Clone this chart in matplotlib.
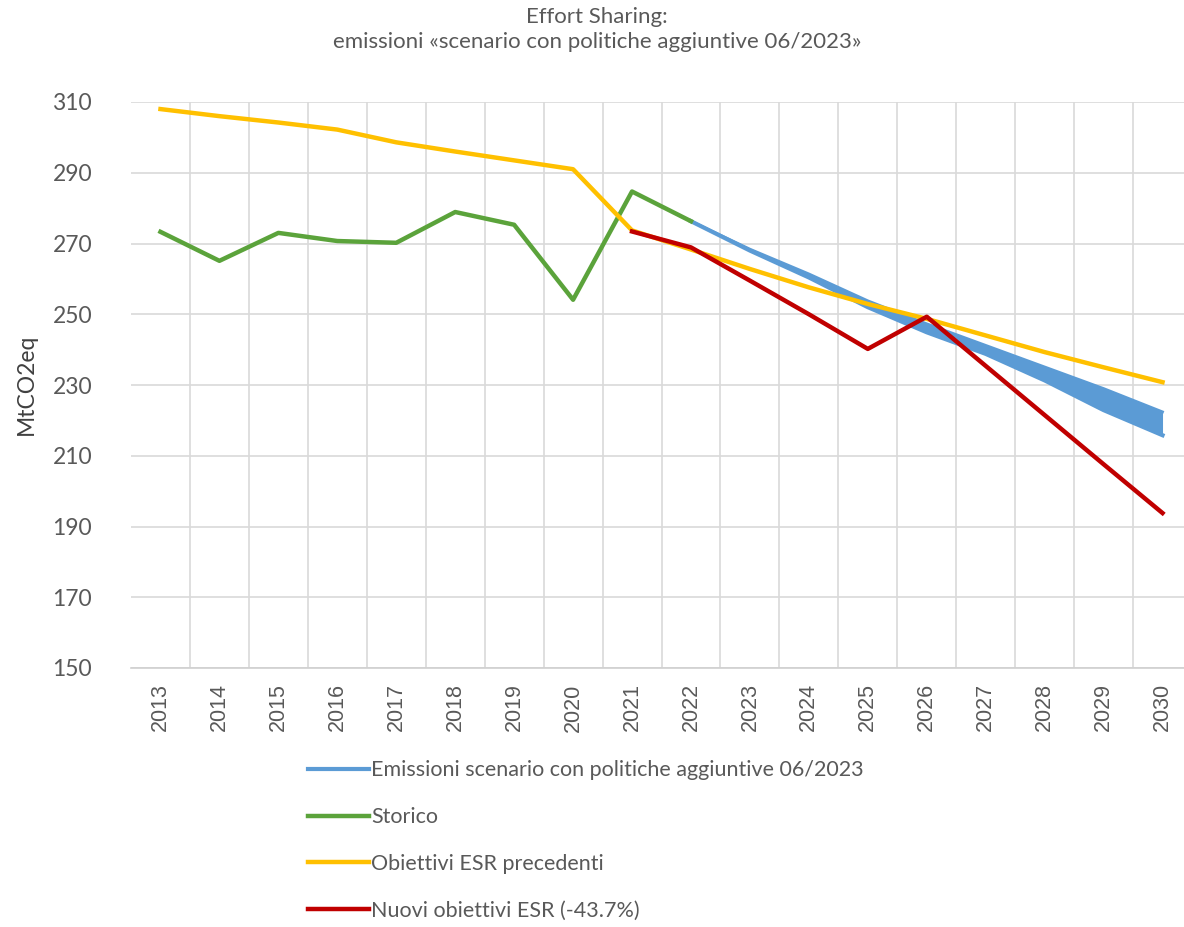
import matplotlib.pyplot as plt
import numpy as np

plt.rcParams['font.family'] = ['Lato', 'DejaVu Sans']

anni = [str(a) for a in range(2013, 2031)]

# storico 2013-2022
storico = [273.3, 265.1, 273.0, 270.7, 270.2, 278.9, 275.3, 254.1, 284.7, 276.3]
# scenario con politiche aggiuntive, 2022-2030 (fascia)
scen_alto = [276.3, 268.4, 261.4, 253.8, 247.3, 241.2, 235.1, 229.0, 222.4]
scen_basso = [276.3, 268.0, 260.4, 252.0, 244.9, 238.8, 231.3, 222.9, 215.8]
# obiettivi ESR precedenti 2013-2030
esr_prec = [308.0, 306.0, 304.2, 302.2, 298.6, 296.0, 293.5, 291.0, 273.7,
            268.3, 262.8, 257.6, 252.9, 248.7, 244.0, 239.3, 235.0, 230.8]
# nuovi obiettivi ESR 2021-2030
esr_nuovi = [273.4, 268.9, 259.5, 250.0, 240.2, 249.3, 235.4, 221.5, 207.6, 193.8]

blu = '#5B9BD5'
verde = '#5BA33B'
giallo = '#FFC000'
rosso = '#C00000'
grigio = '#595959'

fig = plt.figure(figsize=(11.84, 9.27), dpi=100)
ax = fig.add_axes([131 / 1184, 259 / 927, 1061 / 1184, 566 / 927])

x = np.arange(len(anni))
x_scen = x[9:]
ax.fill_between(x_scen, scen_basso, scen_alto, color=blu, lw=0, zorder=2)
ax.plot(x_scen, scen_alto, color=blu, lw=2, zorder=2)
ax.plot(x_scen, scen_basso, color=blu, lw=3, zorder=2,
        label='Emissioni scenario con politiche aggiuntive 06/2023')
ax.plot(x[:10], storico, color=verde, lw=3.2, zorder=3, label='Storico')
ax.plot(x, esr_prec, color=giallo, lw=3.2, zorder=4, label='Obiettivi ESR precedenti')
ax.plot(x[8:], esr_nuovi, color=rosso, lw=3.2, zorder=5, label='Nuovi obiettivi ESR (-43.7%)')

ax.set_xlim(-0.5, 17.5)
ax.set_ylim(150, 310)
ax.set_yticks(range(150, 311, 20))
ax.set_xticks(x)
ax.set_xticklabels(anni, rotation=90, fontsize=15.5, color=grigio,
                   family=['Liberation Sans', 'DejaVu Sans'])
ax.set_xticks(x[:-1] + 0.5, minor=True)
ax.tick_params(axis='y', labelsize=16.5, colors=grigio, length=0, pad=28)
ax.tick_params(axis='x', which='both', length=0, pad=11)
ax.grid(axis='y', color='#D9D9D9', lw=1.2)
ax.grid(axis='x', which='minor', color='#D9D9D9', lw=1.2)
ax.set_axisbelow(True)
for s in ['top', 'right', 'left']:
    ax.spines[s].set_visible(False)
ax.spines['bottom'].set_color('#D0D0D0')
ax.spines['bottom'].set_linewidth(1.2)
ax.set_ylabel('MtCO2eq', fontsize=16.5, color='#404040')
ax.yaxis.set_label_coords(-0.0886, 0.502)

fig.text(0.504, 0.992, 'Effort Sharing:\nemissioni «scenario con politiche aggiuntive 06/2023»',
         ha='center', va='top', fontsize=16, color=grigio, linespacing=1.3)

h, l = ax.get_legend_handles_labels()
fig.legend(h, l, loc='upper left', bbox_to_anchor=(0.260, 0.180), frameon=False,
           fontsize=15.5, handlelength=2.85, handletextpad=0.1, labelspacing=1.25,
           borderpad=0, borderaxespad=0, labelcolor=grigio)

fig.savefig('out.png', dpi=100)
